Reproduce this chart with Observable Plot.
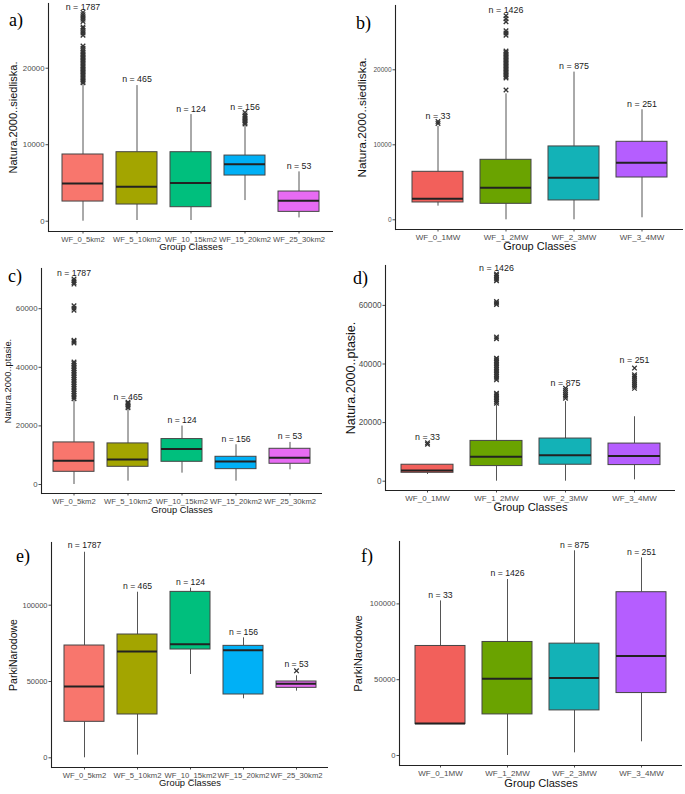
<!DOCTYPE html>
<html><head><meta charset="utf-8">
<script src="https://cdn.jsdelivr.net/npm/d3@7"></script>
<script src="https://cdn.jsdelivr.net/npm/@observablehq/plot@0.6"></script>
<style>
body{margin:0;background:#fff;}
#fig{position:relative;width:685px;height:794px;overflow:hidden;font-family:"Liberation Sans",Arial,sans-serif;background:#fff;}
.panel{position:absolute;}
.panel svg{display:block;}
.tag{position:absolute;font-family:"Liberation Serif","Times New Roman",serif;font-size:18px;line-height:18px;color:#000;}
</style></head><body><div id="fig"></div><script>
// ---------- categories ----------
const areaClasses = ["WF_0_5km2","WF_5_10km2","WF_10_15km2","WF_15_20km2","WF_25_30km2"];
const powerClasses = ["WF_0_1MW","WF_1_2MW","WF_2_3MW","WF_3_4MW"];
const areaN = [1787,465,124,156,53];
const powerN = [33,1426,875,251];
const areaColors = ["#F8766D","#A3A500","#00BF7D","#00B0F6","#E76BF3"];
const powerColors = ["#F2605B","#6AA300","#13B2B7","#B55EFF"];
const groupTitle = "Group Classes";

// ---------- a) Natura.2000..siedliska. by area ----------
const aLow  = [0, 90, 90, 2700, 430];
const aQ1   = [2570, 2180, 1830, 5970, 1220];
const aMed  = [4920, 4490, 5010, 7450, 2660];
const aQ3   = [8720, 9020, 9020, 8580, 3880];
const aHigh = [18000, 17730, 13940, 12500, 6450];
const aOut  = [
  [18100,18300,18500,18700,18900,19100,19300,19500,19700,19900,20100,20300,20500,20700,20900,21100,21300,21500,21700,21900,22100,22300,22600,22900,24300,24600,24900,25200,25400,26100,26400,26700,27000,27300],
  [], [], [12700,12900,13100,13300,13500,13700,13900,14200], []
];
const aLabelY = [28000, 18560, 14680, 14900, 7190];

// ---------- b) Natura.2000..siedliska. by power ----------
const bLow  = [1820, 0, 0, 270];
const bQ1   = [2310, 2130, 2580, 5640];
const bMed  = [2800, 4270, 5600, 7600];
const bQ3   = [6400, 8000, 9780, 10400];
const bHigh = [12450, 16800, 19690, 14670];
const bOut  = [
  [12850, 13100],
  [17300,18900,19100,19300,19500,19700,19900,20100,20300,20500,20700,20900,21100,21300,21500,21700,21900,22100,22300,22500,24600,24900,25200,26400,26800,27200],
  [], []
];
const bLabelY = [13780, 28000, 20440, 15470];

// ---------- c) Natura.2000..ptasie. by area ----------
const cLow  = [0, 1140, 3870, 1140, 5010];
const cQ1   = [4330, 6040, 7750, 5240, 7070];
const cMed  = [8090, 8550, 12080, 7860, 9120];
const cQ3   = [14360, 14020, 15500, 9460, 12190];
const cHigh = [28700, 25870, 19940, 13560, 14360];
const cOut  = [
  [29300,29900,30500,31100,31700,32300,32900,33500,34100,34700,35300,35900,36500,37100,37700,38300,38900,39500,40100,40700,41300,41800,48300,48800,49200,59500,60200,61000,68400,68900,69500,70100],
  [26200,26700,27200,27700,28100], [], [], []
];
const cLabelY = [72250, 29860, 21880, 15610, 16410];

// ---------- d) Natura.2000..ptasie. by power ----------
const dLow  = [2290, 0, 0, 460];
const dQ1   = [2870, 5160, 5620, 5500];
const dMed  = [3670, 8370, 8830, 8600];
const dQ3   = [5620, 13750, 14560, 12840];
const dHigh = [5620, 26000, 27160, 22000];
const dOut  = [
  [12600, 13100],
  [26600,27200,27800,28400,29000,29500,30000,34600,35200,35800,36400,37000,37600,38200,38800,39400,40000,40600,41200,41800,42000,48600,49200,60300,60800,61300,68400,69000,69600,70200,70700],
  [28300,29000,29600,30300,31000,31700],
  [31700,32400,33100,33800,34500,35200,35800,36300,38600]
];
const dLabelY = [15130, 72660, 33470, 41150];

// ---------- e) ParkiNarodowe by area ----------
const eLow  = [0, 1750, 54590, 38650, 43670];
const eQ1   = [23580, 28380, 70960, 41480, 45850];
const eMed  = [46720, 69650, 74450, 70520, 48470];
const eQ3   = [73580, 80790, 108730, 73360, 50000];
const eHigh = [134700, 108500, 111140, 78600, 53710];
const eOut  = [[], [], [], [], [57000]];
const eLabelY = [139080, 112450, 115280, 82530, 61140];

// ---------- f) ParkiNarodowe by power ----------
const fLow  = [20500, 0, 1760, 9030];
const fQ1   = [20700, 27090, 29740, 41190];
const fMed  = [21150, 50660, 51100, 65640];
const fQ3   = [72250, 74890, 73790, 107710];
const fHigh = [101980, 116080, 135020, 130400];
const fOut  = [[], [], [], []];
const fLabelY = [105950, 120480, 138990, 134360];

const ticksSmall = [0, 10000, 20000];
const ticksMid = [0, 20000, 40000, 60000];
const ticksBig = [0, 50000, 100000];

function boxPanel(cfg) {
  const rows = cfg.classes.map((c, i) => ({
    cls: c, color: cfg.colors[i], n: cfg.n[i], low: cfg.low[i], q1: cfg.q1[i],
    med: cfg.med[i], q3: cfg.q3[i], high: cfg.high[i], ly: cfg.labelY[i]
  }));
  const outs = cfg.classes.flatMap((c, i) => cfg.out[i].map(v => ({cls: c, v})));
  const L = cfg.layout;
  const chart = Plot.plot({
    width: L.w, height: L.h,
    marginLeft: L.ml, marginRight: L.mr, marginTop: L.mt, marginBottom: L.mb,
    style: {fontFamily: '"Liberation Sans", Arial, sans-serif', background: "none", overflow: "visible"},
    x: {type: "band", domain: cfg.classes, paddingInner: 0.25, paddingOuter: 0.225},
    y: {domain: cfg.yDomain},
    color: {type: "identity"},
    marks: [
      Plot.ruleX(rows, {x: "cls", y1: "low", y2: "q1", stroke: "#555", strokeWidth: 1}),
      Plot.ruleX(rows, {x: "cls", y1: "q3", y2: "high", stroke: "#555", strokeWidth: 1}),
      Plot.barY(rows, {x: "cls", y1: "q1", y2: "q3", fill: "color", stroke: "#444", strokeWidth: 1}),
      Plot.tickY(rows, {x: "cls", y: "med", stroke: "#222", strokeWidth: 2}),
      Plot.dot(outs, {x: "cls", y: "v", symbol: "times", r: 2.2, stroke: "#333", strokeWidth: 1.3}),
      Plot.text(rows, {x: "cls", y: "ly", text: d => `n = ${d.n}`, fontSize: L.nfs, fill: "#1a1a1a"}),
      Plot.axisY({ticks: cfg.yTicks, tickFormat: d3.format("d"), tickSize: 2.5, tickPadding: 1.5,
                  fontSize: L.yts, color: "#4d4d4d", label: null}),
      Plot.axisX({tickSize: 2.5, tickPadding: 2.5, fontSize: L.xts, color: "#4d4d4d", label: null}),
      Plot.ruleY([cfg.yDomain[0]], {stroke: "#222", strokeWidth: 1.1}),
      Plot.frame({anchor: "left", stroke: "#222", strokeWidth: 1.1}),
      Plot.text([groupTitle], {text: d => d, frameAnchor: "bottom", textAnchor: "middle", dy: L.xlDy, fontSize: L.xlfs, fill: "#111"}),
      Plot.text([cfg.yLabel], {text: d => d, frameAnchor: "left", textAnchor: "middle", rotate: -90, dx: -L.ylDx, fontSize: L.ylfs, fill: "#111"})
    ]
  });
  const holder = document.createElement("div");
  holder.className = "panel";
  holder.style.left = L.left + "px";
  holder.style.top = L.top + "px";
  holder.appendChild(chart);
  document.getElementById("fig").appendChild(holder);
  const tag = document.createElement("div");
  tag.className = "tag";
  tag.textContent = cfg.tag;
  tag.style.left = L.tagX + "px";
  tag.style.top = L.tagY + "px";
  document.getElementById("fig").appendChild(tag);
}

const areaBase = {classes: areaClasses, colors: areaColors, n: areaN};
const powerBase = {classes: powerClasses, colors: powerColors, n: powerN};

boxPanel({...areaBase, tag: "a)", yLabel: "Natura.2000..siedliska.", yDomain: [-1346, 28458], yTicks: ticksSmall,
  low: aLow, q1: aQ1, med: aMed, q3: aQ3, high: aHigh, out: aOut, labelY: aLabelY,
  layout: {left: 0, top: 0, w: 340, h: 260, ml: 48, mr: 7, mt: 3, mb: 29, yts: 7.8, xts: 7.7, xlfs: 9.6, xlDy: 18, ylfs: 11, ylDx: 35, nfs: 8.8, tagX: 9, tagY: 11}});
boxPanel({...powerBase, tag: "b)", yLabel: "Natura.2000..siedliska.", yDomain: [-1293, 28573], yTicks: ticksSmall,
  low: bLow, q1: bQ1, med: bMed, q3: bQ3, high: bHigh, out: bOut, labelY: bLabelY,
  layout: {left: 340, top: 0, w: 345, h: 260, ml: 55, mr: 2, mt: 5, mb: 31, yts: 6.5, xts: 8, xlfs: 11, xlDy: 20.5, ylfs: 11.8, ylDx: 33, nfs: 8.9, tagX: 356, tagY: 14}});
boxPanel({...areaBase, tag: "c)", yLabel: "Natura.2000..ptasie.", yDomain: [-3072, 73720], yTicks: ticksMid,
  low: cLow, q1: cQ1, med: cMed, q3: cQ3, high: cHigh, out: cOut, labelY: cLabelY,
  layout: {left: 0, top: 260, w: 340, h: 260, ml: 41, mr: 18, mt: 8, mb: 27, yts: 7.8, xts: 7.7, xlfs: 9.3, xlDy: 19, ylfs: 9.4, ylDx: 33.5, nfs: 8.7, tagX: 8, tagY: 267}});
boxPanel({...powerBase, tag: "d)", yLabel: "Natura.2000..ptasie.", yDomain: [-3174, 73618], yTicks: ticksMid,
  low: dLow, q1: dQ1, med: dMed, q3: dQ3, high: dHigh, out: dOut, labelY: dLabelY,
  layout: {left: 340, top: 260, w: 345, h: 260, ml: 45, mr: 10, mt: 5, mb: 30, yts: 8.2, xts: 8, xlfs: 11.2, xlDy: 20.5, ylfs: 12.5, ylDx: 35, nfs: 8.9, tagX: 353, tagY: 269}});
boxPanel({...areaBase, tag: "e)", yLabel: "ParkiNarodowe", yDomain: [-6356, 141087], yTicks: ticksBig,
  low: eLow, q1: eQ1, med: eMed, q3: eQ3, high: eHigh, out: eOut, labelY: eLabelY,
  layout: {left: 0, top: 520, w: 340, h: 274, ml: 51, mr: 12, mt: 22, mb: 27, yts: 7.5, xts: 7.7, xlfs: 9.4, xlDy: 18.7, ylfs: 10.5, ylDx: 38, nfs: 8.6, tagX: 16, tagY: 547}});
boxPanel({...powerBase, tag: "f)", yLabel: "ParkiNarodowe", yDomain: [-6596, 141161], yTicks: ticksBig,
  low: fLow, q1: fQ1, med: fMed, q3: fQ3, high: fHigh, out: fOut, labelY: fLabelY,
  layout: {left: 340, top: 520, w: 345, h: 274, ml: 59, mr: 3, mt: 21, mb: 29, yts: 7.7, xts: 8, xlfs: 11.1, xlDy: 21, ylfs: 11.2, ylDx: 40.7, nfs: 8.7, tagX: 361, tagY: 547}});
</script></body></html>
